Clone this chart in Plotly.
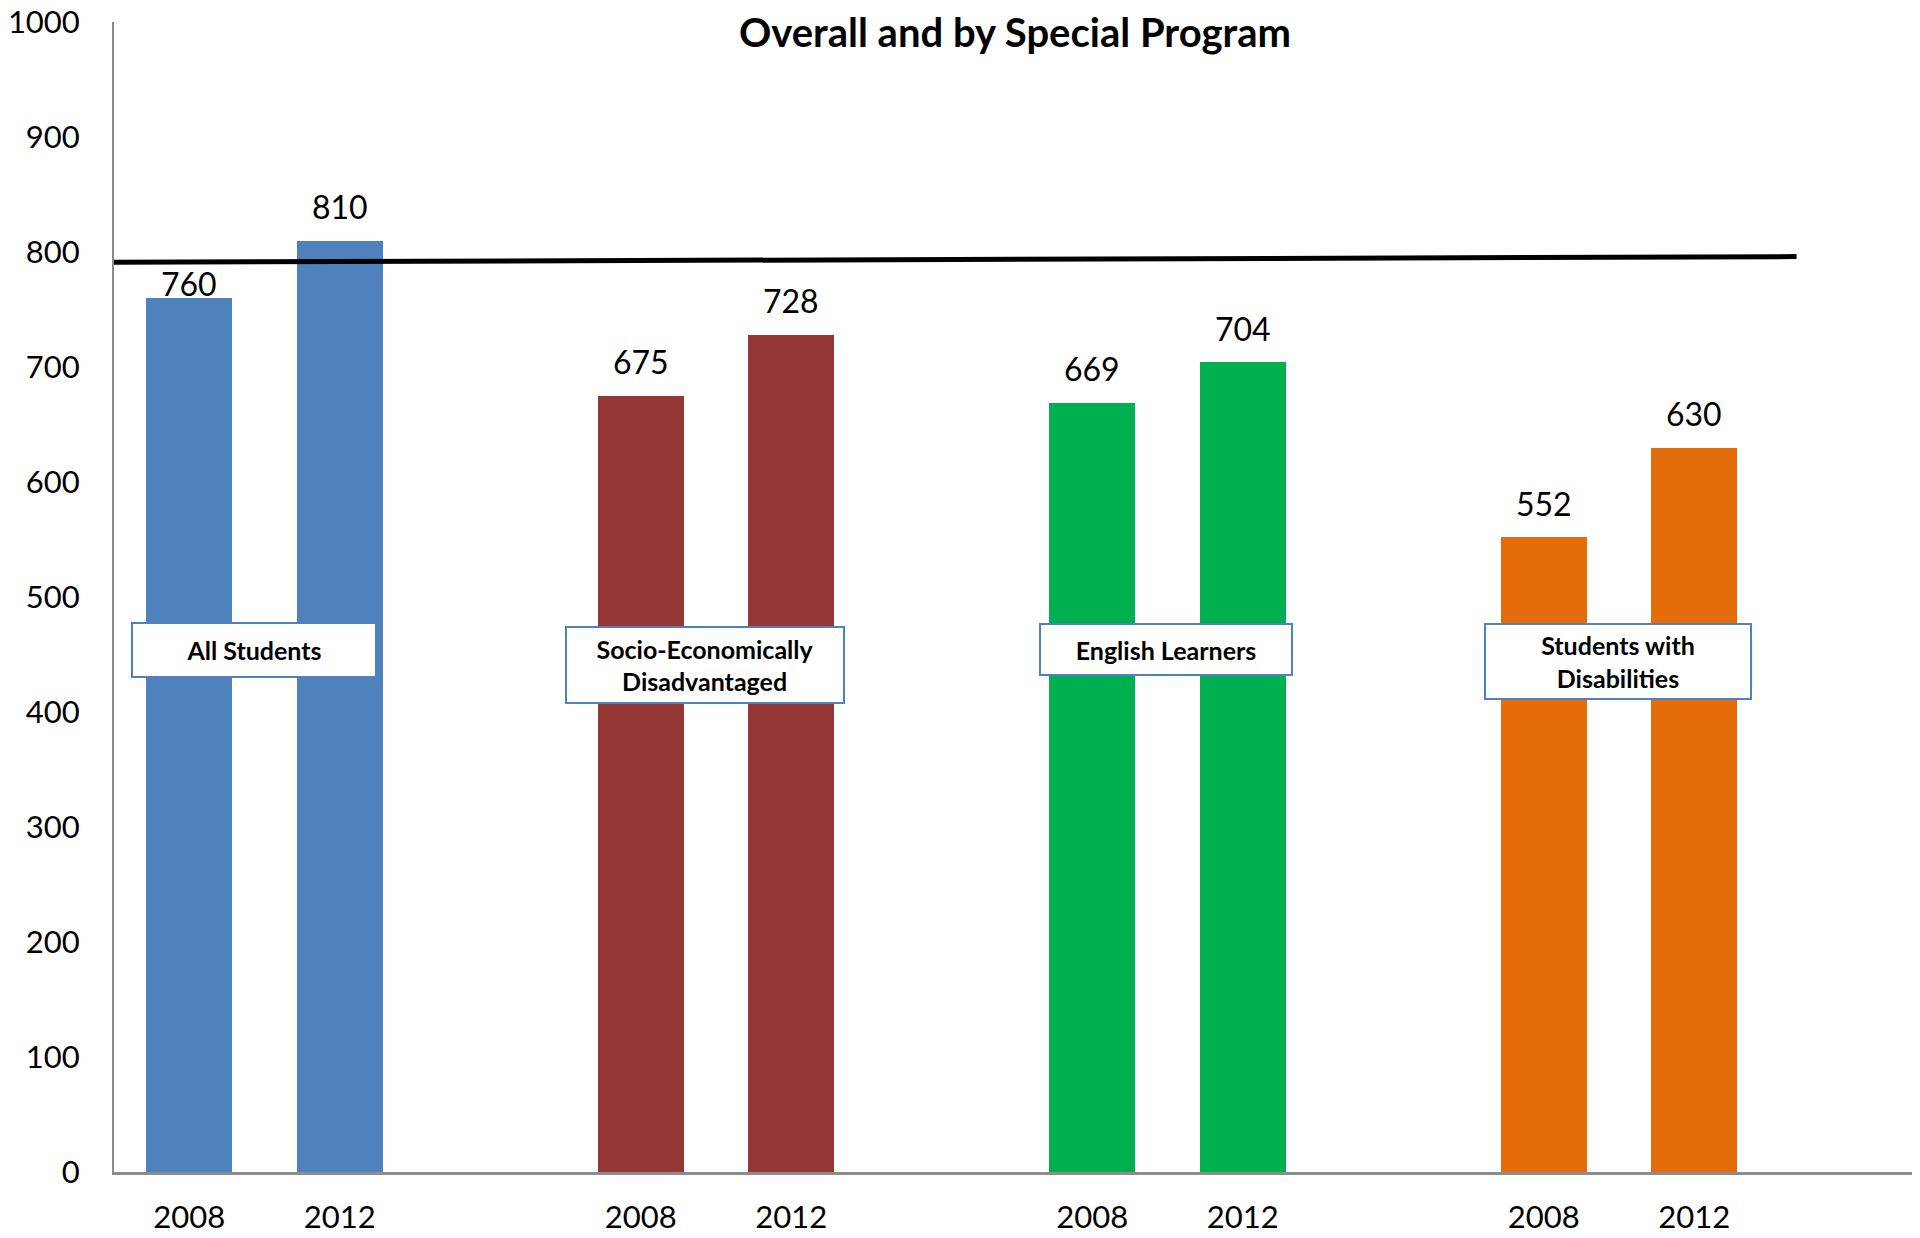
import plotly.graph_objects as go

# data
groups = ["All Students", "Socio-Economically<br>Disadvantaged", "English Learners", "Students with<br>Disabilities"]
years = ["2008", "2012"]
scores_2008 = [760, 675, 669, 552]
scores_2012 = [810, 728, 704, 630]
colors = ["#4F81BD", "#953735", "#00B050", "#E46C0A"]
target_line = [791, 796]  # hand-drawn target line, slightly tilted

FONT = "Lato"

# each group takes three slots: two bars and a gap
xs, ys, bar_colors, tick_text = [], [], [], []
for i, (a, b) in enumerate(zip(scores_2008, scores_2012)):
    for j, v in enumerate((a, b)):
        xs.append(3 * i + j)
        ys.append(v)
        bar_colors.append(colors[i])
        tick_text.append(years[j])

fig = go.Figure()
fig.add_trace(go.Bar(x=xs, y=ys, width=0.57, marker=dict(color=bar_colors, line_width=0),
                     hoverinfo="x+y", showlegend=False))

fig.add_trace(go.Scatter(x=[-0.52, 10.68], y=target_line, mode="lines",
                         line=dict(color="black", width=5), hoverinfo="skip", showlegend=False))

# value labels above the bars
for x, v in zip(xs, ys):
    shift = 15 if v == 760 else 34
    fig.add_annotation(x=x, y=v, text=str(v), showarrow=False, yanchor="middle", yshift=shift,
                       font=dict(family=FONT, size=32, color="black"))

# category boxes
box_specs = [(0.43, 454, 242, 52), (3.43, 441, 276, 74), (6.49, 454, 250, 49), (9.49, 444, 264, 73)]
for label, (bx, by, bw, bh) in zip(groups, box_specs):
    fig.add_annotation(x=bx, y=by, text=f"<b>{label}</b>", showarrow=False,
                       width=bw, height=bh, align="center", valign="middle",
                       bgcolor="white", bordercolor="#4F81BD", borderwidth=2, borderpad=0,
                       font=dict(family=FONT, size=25, color="black"))

# page body adds an 8px offset, so the figure is 8px smaller than the window
fig.update_layout(
    width=1912, height=1230,
    margin=dict(l=106, r=0, t=14, b=66),
    paper_bgcolor="white", plot_bgcolor="white",
    title=dict(text="<b>Overall and by Special Program</b>", x=1007 / 1912, xanchor="center",
               y=1 - 25 / 1230, yanchor="middle",
               font=dict(family=FONT, size=40, color="black")),
    font=dict(family=FONT, size=32, color="black"),
    bargap=0,
)
fig.update_xaxes(range=[-0.5, 11.5], tickvals=xs, ticktext=tick_text, showgrid=False,
                 showline=True, linecolor="#8C8C8C", linewidth=3, ticks="",
                 ticklabelstandoff=16, ticklabeloverflow="allow", automargin=False,
                 tickfont=dict(family=FONT, size=31), zeroline=False)
fig.update_yaxes(range=[0, 1000], dtick=100, showgrid=False, showline=True,
                 linecolor="#8C8C8C", linewidth=2, ticks="", ticklabelstandoff=26,
                 ticklabeloverflow="allow", automargin=False,
                 tickfont=dict(family=FONT, size=31), zeroline=False)

fig.write_html("out.html")
